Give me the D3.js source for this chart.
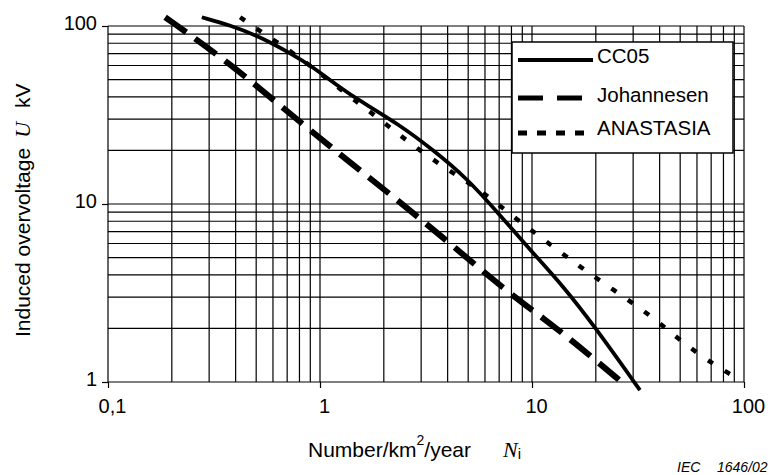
<!DOCTYPE html>
<html>
<head>
<meta charset="utf-8">
<script src="https://cdn.jsdelivr.net/npm/d3@7"></script>
<style>
  body { margin: 0; background: #fff; }
  text { font-family: "Liberation Sans", Arial, sans-serif; fill: #000; }
  .serif { font-family: "Liberation Serif", "Times New Roman", serif; font-style: italic; }
</style>
</head>
<body>
<div id="chart"></div>
<script>
// values (N in flashes/km2/year, U in kV)
var cc05N = [0.277, 0.376, 0.521, 0.748, 0.897, 1.29, 1.52, 2.38, 3.42, 4.92, 7.06, 9.8, 14.1, 19.5, 32.3];
var cc05U = [112, 101, 87.1, 68.7, 60.4, 43.7, 38.4, 27.8, 20.1, 14.0, 8.67, 5.52, 3.43, 2.09, 0.90];

var johN = [0.186, 0.376, 0.671, 1.22, 2.26, 4.10, 7.46, 11.9, 16.0, 27.0];
var johU = [112, 61.7, 34.5, 19.3, 10.8, 6.01, 3.29, 2.18, 1.65, 0.98];

var anaN = [0.42, 0.54, 0.776, 1.26, 1.85, 2.66, 3.89, 5.69, 8.17, 11.7, 16.8, 24.2, 36.1, 50.8, 74.3, 95.7];
var anaU = [112, 91, 68.7, 43.7, 30.9, 21.9, 15.9, 12.0, 8.49, 6.14, 4.45, 3.29, 2.38, 1.68, 1.22, 1.03];

var seriesNames = ["CC05", "Johannesen", "ANASTASIA"];
var xTicks = [0.1, 1, 10, 100];
var xTickLabels = ["0,1", "1", "10", "100"];
var yTicks = [1, 10, 100];
var yTickLabels = ["1", "10", "100"];

var svgWidth = 773;
var svgHeight = 475;

var margin = { top: 26, right: 29, bottom: 93, left: 108 };
var width = svgWidth - margin.left - margin.right;
var height = svgHeight - margin.top - margin.bottom;

var svg = d3.select("#chart")
  .append("svg")
  .attr("width", svgWidth)
  .attr("height", svgHeight);

var chartGroup = svg.append("g")
  .attr("transform", `translate(${margin.left}, ${margin.top})`);

var xScale = d3.scaleLog().domain([0.1, 100]).range([0, width]);
var yScale = d3.scaleLog().domain([1, 100]).range([height, 0]);

// log grid: 1..9 in every decade
var gridX = [];
[0.1, 1, 10].forEach(function(d) {
  for (var k = 1; k <= 9; k++) gridX.push(d * k);
});
gridX.push(100);
var gridY = [];
[1, 10].forEach(function(d) {
  for (var k = 1; k <= 9; k++) gridY.push(d * k);
});
gridY.push(100);

chartGroup.append("g").selectAll("line")
  .data(gridX)
  .enter()
  .append("line")
  .attr("x1", d => xScale(d))
  .attr("x2", d => xScale(d))
  .attr("y1", 0)
  .attr("y2", height)
  .attr("stroke", "#000")
  .attr("stroke-width", 1.2);

chartGroup.append("g").selectAll("line")
  .data(gridY)
  .enter()
  .append("line")
  .attr("x1", 0)
  .attr("x2", width)
  .attr("y1", d => yScale(d))
  .attr("y2", d => yScale(d))
  .attr("stroke", "#000")
  .attr("stroke-width", 1.2);

// axes (ticks + labels only, the grid makes the frame)
var bottomAxis = d3.axisBottom(xScale)
  .tickValues(xTicks)
  .tickFormat((d, i) => xTickLabels[i])
  .tickSize(6)
  .tickPadding(11);
var leftAxis = d3.axisLeft(yScale)
  .tickValues(yTicks)
  .tickFormat((d, i) => yTickLabels[i])
  .tickSize(6)
  .tickPadding(5);

var xAxisG = chartGroup.append("g")
  .attr("transform", `translate(0, ${height})`)
  .call(bottomAxis);
var yAxisG = chartGroup.append("g")
  .call(leftAxis);

[xAxisG, yAxisG].forEach(function(g) {
  g.select(".domain").remove();
  g.selectAll("line").attr("stroke", "#000").attr("stroke-width", 1.2);
  g.selectAll("text")
    .style("font-family", '"Liberation Sans", Arial, sans-serif')
    .style("font-size", "20px")
    .attr("fill", "#000");
});
xAxisG.selectAll("text").attr("dx", 4);
yAxisG.selectAll("text").attr("dy", "0.15em");

// curves
var line = d3.line()
  .x(d => xScale(d[0]))
  .y(d => yScale(d[1]))
  .curve(d3.curveBasis);

var series = [
  { pts: d3.zip(cc05N, cc05U), width: 3.8, dash: null },
  { pts: d3.zip(johN, johU), width: 6, dash: "26,11" },
  { pts: d3.zip(anaN, anaU), width: 4.5, dash: "6,14" }
];

series.forEach(function(s) {
  chartGroup.append("path")
    .datum(s.pts)
    .attr("d", line)
    .attr("fill", "none")
    .attr("stroke", "#000")
    .attr("stroke-width", s.width)
    .attr("stroke-dasharray", s.dash);
});

// legend
var legend = svg.append("g");
legend.append("rect")
  .attr("x", 512)
  .attr("y", 42)
  .attr("width", 221)
  .attr("height", 111)
  .attr("fill", "#fff")
  .attr("stroke", "#000")
  .attr("stroke-width", 1.5);

var legendRows = [
  { y: 60, ty: 63, width: 4, dash: null },
  { y: 98, ty: 102, width: 5, dash: "25,14" },
  { y: 133, ty: 135, width: 5, dash: "9,10" }
];
legendRows.forEach(function(r, i) {
  legend.append("line")
    .attr("x1", 518)
    .attr("x2", 593)
    .attr("y1", r.y)
    .attr("y2", r.y)
    .attr("stroke", "#000")
    .attr("stroke-width", r.width)
    .attr("stroke-dasharray", r.dash);
  legend.append("text")
    .attr("x", 597)
    .attr("y", r.ty)
    .style("font-size", "20.5px")
    .text(seriesNames[i]);
});

// axis titles
var xLabel = svg.append("text")
  .attr("x", 308)
  .attr("y", 457)
  .style("font-size", "21px");
xLabel.append("tspan").text("Number/km");
xLabel.append("tspan").attr("dy", -12).style("font-size", "14px").text("2");
xLabel.append("tspan").attr("dy", 12).text("/year");
xLabel.append("tspan").attr("x", 503).attr("class", "serif").style("font-size", "22px").text("N");
xLabel.append("tspan").attr("dy", 2).style("font-size", "15px").text("i");

var yLabel = svg.append("text")
  .attr("transform", "rotate(-90)")
  .attr("x", -337)
  .attr("y", 30)
  .style("font-size", "21px");
yLabel.append("tspan").text("Induced overvoltage");
yLabel.append("tspan").attr("dx", 10).attr("class", "serif").style("font-size", "22px").text("U");
yLabel.append("tspan").attr("dx", 14).text("kV");

svg.append("text")
  .attr("x", 677)
  .attr("y", 472)
  .style("font-size", "14px")
  .style("font-style", "italic")
  .text("IEC");
svg.append("text")
  .attr("x", 717)
  .attr("y", 472)
  .style("font-size", "14px")
  .style("font-style", "italic")
  .text("1646/02");
</script>
</body>
</html>
